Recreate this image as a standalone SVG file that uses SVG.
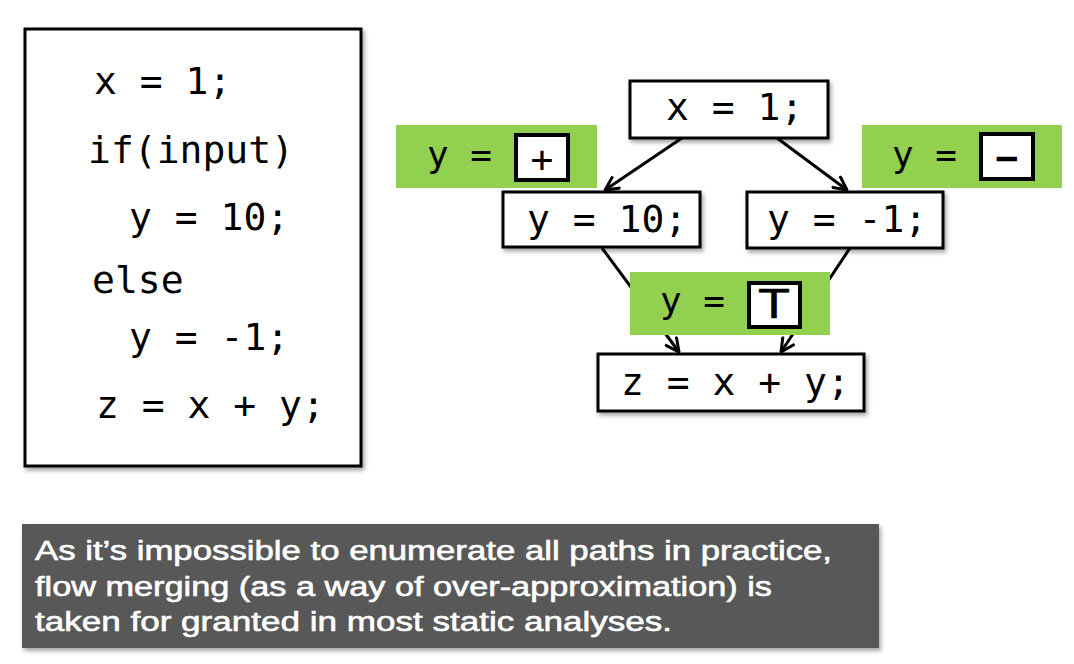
<svg xmlns="http://www.w3.org/2000/svg" width="1074" height="664" viewBox="0 0 1074 664">
<style>
.code{font-family:"DejaVu Sans Mono","Liberation Mono",monospace;font-size:38px;fill:#000}
.lbl{font-family:"DejaVu Sans Mono","Liberation Mono",monospace;font-size:36px;fill:#000}
.box{fill:#fff;stroke:#000;stroke-width:3}
.green{fill:#92D050}
.inner{fill:#fff;stroke:#000;stroke-width:4}
.edge{stroke:#000;stroke-width:3;fill:none}
.note{font-family:"Liberation Sans","DejaVu Sans",sans-serif;font-size:27px;fill:#fff;stroke:#fff;stroke-width:0.6}
</style>
<defs>
<filter id="sh" x="-10%" y="-10%" width="130%" height="130%">
<feDropShadow dx="2" dy="3" stdDeviation="2" flood-color="#000" flood-opacity="0.35"/>
</filter>
<marker id="arr" viewBox="0 0 16 16" refX="15" refY="8" markerWidth="16" markerHeight="16" markerUnits="userSpaceOnUse" orient="auto">
<path d="M1,1 L15,8 L1,15" fill="none" stroke="#000" stroke-width="3"/>
</marker>
</defs>
<rect width="1074" height="664" fill="#fff"/>

<g id="source-code">
<rect x="25" y="29" width="336" height="437" class="box" filter="url(#sh)"/>
<text class="code" x="94" y="94">x = 1;</text>
<text class="code" x="88" y="163">if(input)</text>
<text class="code" x="129" y="230">y = 10;</text>
<text class="code" x="92" y="293">else</text>
<text class="code" x="129" y="350">y = -1;</text>
<text class="code" x="96" y="418">z = x + y;</text>
</g>

<g id="connectors">
<line x1="682" y1="138" x2="605" y2="190" class="edge" marker-end="url(#arr)"/>
<line x1="777" y1="138" x2="847" y2="190" class="edge" marker-end="url(#arr)"/>
<line x1="602" y1="248" x2="679" y2="352" class="edge" marker-end="url(#arr)"/>
<line x1="850" y1="248" x2="781" y2="352" class="edge" marker-end="url(#arr)"/>
</g>

<g id="node-x1">
<rect x="630" y="81" width="198" height="57" class="box" filter="url(#sh)"/>
<text class="code" x="666" y="120">x = 1;</text>
</g>
<g id="node-y10">
<rect x="503" y="192" width="197" height="55" class="box" filter="url(#sh)"/>
<text class="code" x="527" y="232">y = 10;</text>
</g>
<g id="node-ym1">
<rect x="747" y="192" width="196" height="56" class="box" filter="url(#sh)"/>
<text class="code" x="767" y="232">y = -1;</text>
</g>
<g id="node-z">
<rect x="598" y="354" width="266" height="57" class="box" filter="url(#sh)"/>
<text class="code" x="621" y="395">z = x + y;</text>
</g>

<g id="label-plus">
<rect x="396" y="125" width="201" height="63" class="green"/>
<text class="lbl" x="427" y="167">y =</text>
<rect x="516" y="135" width="52" height="45" class="inner"/>
<text class="code" x="542" y="172" font-size="44" text-anchor="middle">+</text>
</g>
<g id="label-minus">
<rect x="862" y="125" width="200" height="63" class="green"/>
<text class="lbl" x="892" y="167">y =</text>
<rect x="981" y="134" width="52" height="45" class="inner"/>
<text class="code" x="1007" y="171" text-anchor="middle" font-weight="bold">−</text>
</g>
<g id="label-top">
<rect x="630" y="272" width="200" height="63" class="green"/>
<text class="lbl" x="660" y="313">y =</text>
<rect x="749" y="283" width="51" height="44" class="inner"/>
<text x="758" y="318" font-family="Liberation Sans, DejaVu Sans, sans-serif" font-size="42" stroke="#000" stroke-width="0.5" textLength="32" lengthAdjust="spacingAndGlyphs">T</text>
</g>

<g id="note">
<rect x="22" y="524" width="857" height="124" fill="#595959" filter="url(#sh)"/>
<text class="note" x="35" y="560" textLength="797" lengthAdjust="spacingAndGlyphs">As it’s impossible to enumerate all paths in practice,</text>
<text class="note" x="35" y="596" textLength="737" lengthAdjust="spacingAndGlyphs">flow merging (as a way of over-approximation) is</text>
<text class="note" x="35" y="631" textLength="637" lengthAdjust="spacingAndGlyphs">taken for granted in most static analyses.</text>
</g>
</svg>
